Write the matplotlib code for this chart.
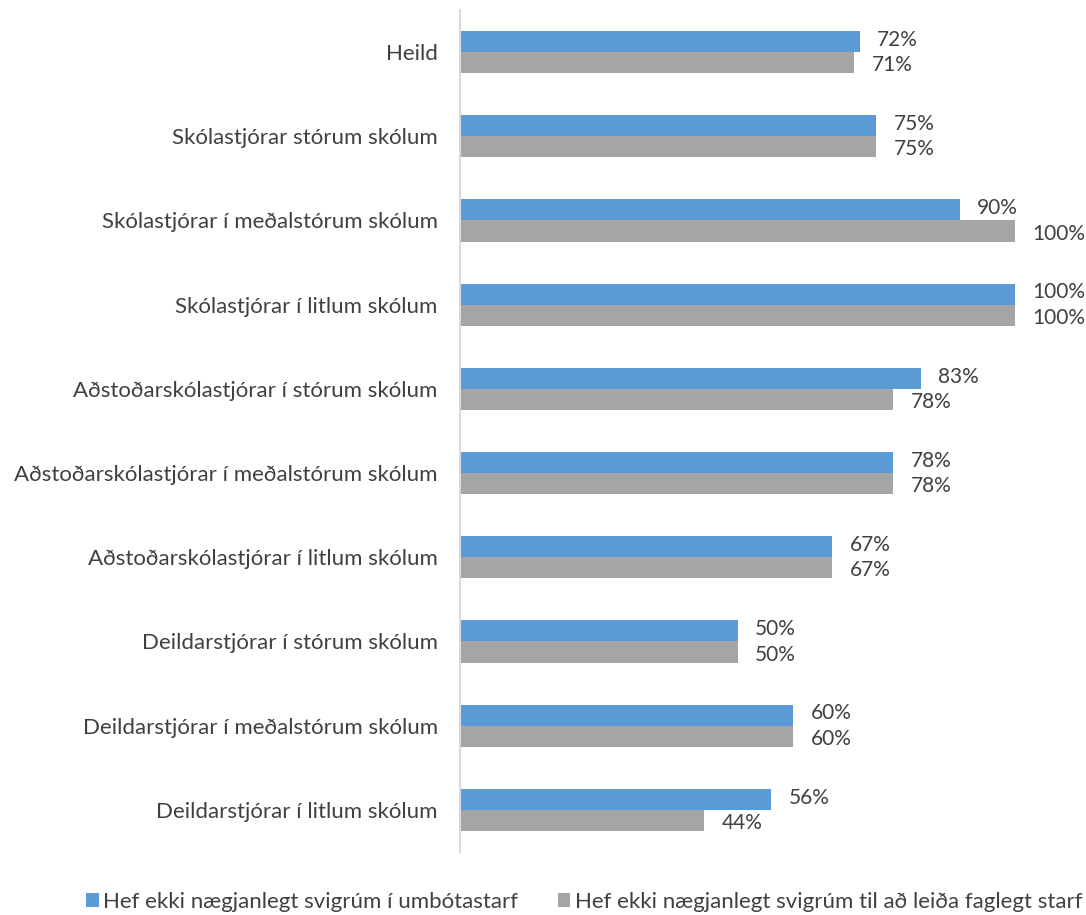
import matplotlib.pyplot as plt
import numpy as np

categories = [
    "Heild",
    "Skólastjórar stórum skólum",
    "Skólastjórar í meðalstórum skólum",
    "Skólastjórar í litlum skólum",
    "Aðstoðarskólastjórar í stórum skólum",
    "Aðstoðarskólastjórar í meðalstórum skólum",
    "Aðstoðarskólastjórar í litlum skólum",
    "Deildarstjórar í stórum skólum",
    "Deildarstjórar í meðalstórum skólum",
    "Deildarstjórar í litlum skólum",
]
umbotastarf = [72, 75, 90, 100, 83, 78, 67, 50, 60, 56]
faglegt_starf = [71, 75, 100, 100, 78, 78, 67, 50, 60, 44]
series_names = [
    "Hef ekki nægjanlegt svigrúm í umbótastarf",
    "Hef ekki nægjanlegt svigrúm til að leiða faglegt starf",
]

plt.rcParams['font.family'] = ['Lato', 'DejaVu Sans']

fig = plt.figure(figsize=(10.86, 9.15), dpi=100)
ax = fig.add_axes([460 / 1086, 1 - 852 / 915, (1015 - 460) / 1086, 842 / 915])

y = np.arange(len(categories))
h = 0.25
blue = "#5B9BD5"
gray = "#A5A5A5"
ax.barh(y - h / 2, umbotastarf, height=h, color=blue, label=series_names[0])
ax.barh(y + h / 2, faglegt_starf, height=h, color=gray, label=series_names[1])

for yi, v in zip(y, umbotastarf):
    ax.text(v + 3.2, yi - h / 2 - 0.02, f"{v}%", va="center", ha="left",
            fontsize=15, color="#404040")
for yi, v in zip(y, faglegt_starf):
    ax.text(v + 3.2, yi + h / 2 + 0.03, f"{v}%", va="center", ha="left",
            fontsize=15, color="#404040")

ax.set_xlim(0, 100)
ax.set_ylim(9.5, -0.5)
ax.set_yticks(y)
ax.set_yticklabels(categories, fontsize=16, color="#404040")
ax.set_xticks([])
ax.tick_params(axis="y", length=0, pad=16)
for s in ["top", "right", "bottom"]:
    ax.spines[s].set_visible(False)
ax.spines["left"].set_color("#D9D9D9")
ax.spines["left"].set_linewidth(1.5)

fig.legend(loc="center", bbox_to_anchor=(0.538, 1 - 902 / 915), ncol=2,
           frameon=False, fontsize=16, handlelength=0.55, handleheight=0.55,
           handletextpad=0.2, columnspacing=1.8, labelcolor="#404040")

fig.savefig("out.png", dpi=100)
